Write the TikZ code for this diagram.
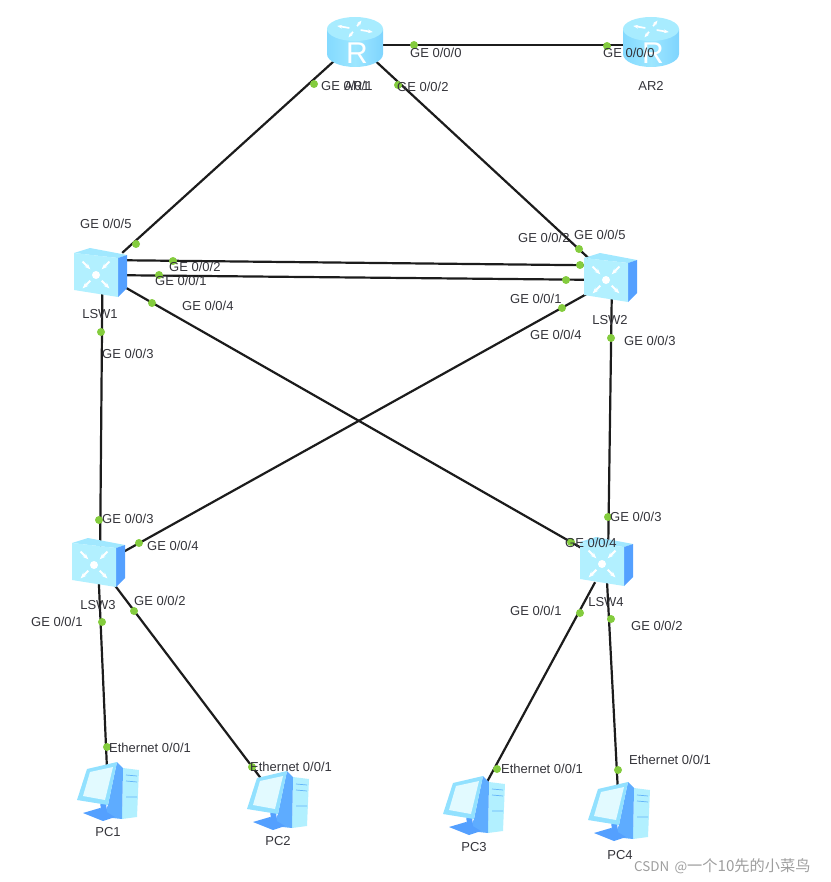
\documentclass[tikz,border=0pt]{standalone}
\usepackage{fontspec}
\setmainfont{Liberation Sans}
\newfontfamily\cjkwm{Noto Sans CJK SC}
\usetikzlibrary{arrows.meta,calc}
\definecolor{linkcol}{RGB}{28,28,28}
\definecolor{portcol}{RGB}{132,204,62}
\definecolor{textcol}{RGB}{52,52,58}
\definecolor{icontop}{RGB}{168,236,255}
\definecolor{iconmid}{RGB}{132,218,255}
\definecolor{iconedge}{RGB}{98,180,250}
\definecolor{iconside}{RGB}{84,160,255}
\definecolor{iconpale}{RGB}{178,240,255}
\definecolor{iconscreen}{RGB}{226,250,255}

\begin{document}
\begin{tikzpicture}[
    x=1pt, y=-1pt,
    link/.style={line width=2.2pt, linkcol},
    port/.style={circle, fill=portcol, inner sep=0pt, minimum size=8pt},
    portlabel/.style={anchor=west, inner sep=0pt, text=textcol, font=\fontsize{13}{15}\selectfont},
    devlabel/.style={inner sep=0pt, text=textcol, font=\fontsize{13}{15}\selectfont},
    routerbox/.style={inner sep=0pt, minimum width=40pt, minimum height=36pt},
    switchbox/.style={inner sep=0pt, minimum width=44pt, minimum height=40pt},
    pcbox/.style={inner sep=0pt, minimum width=50pt, minimum height=44pt},
    pics/routerpic/.style={code={
        \shade[left color=iconmid, right color=iconmid!85!iconedge, middle color=icontop!70!iconmid]
            (-28,-13) -- (-28,12) arc[start angle=180, end angle=0, x radius=28, y radius=13] -- (28,-13) -- cycle;
        \fill[icontop] (0,-13) ellipse [x radius=28, y radius=12];
        \foreach \a in {20,110,200,290} {
            \draw[white, line width=1.7pt, -{Stealth[length=5pt]}] (0,-13) ++(\a:6 and 3) -- ++(\a:13 and 6);
        }
        \node[white, inner sep=0pt, font=\fontsize{30}{30}\selectfont] (-glyph) at (2,11) {R};
    }},
    pics/switchpic/.style={code={
        \fill[icontop!80!iconmid] (-26,-20) -- (-10,-25) -- (27,-18) -- (18,-15) -- cycle;
        \fill[iconside] (18,-15) -- (27,-18) -- (27,15) -- (18,24) -- cycle;
        \fill[iconpale] (-26,-20) -- (18,-15) -- (18,24) -- (-26,17) -- cycle;
        \fill[white] (-4,2) circle (4);
        \foreach \a in {225,315} {
            \draw[white, line width=2.1pt, -{Stealth[length=6pt]}] (-4,2) ++(\a:19) -- ++(\a:-11);
        }
        \foreach \a in {45,135} {
            \draw[white, line width=2.1pt, -{Stealth[length=6pt]}] (-4,2) ++(\a:8) -- ++(\a:11);
        }
    }},
    pics/pcpic/.style={code={
        \fill[iconpale] (15,-24) -- (31,-22) -- (29,25) -- (14,27) -- cycle;
        \fill[iconside!80!iconmid] (9,-30) -- (15,-24) -- (14,27) -- (-5,25) -- (0,13) -- cycle;
        \fill[iconside] (-25,21) -- (-8,16) -- (7,25) -- (-5,29) -- cycle;
        \fill[iconside] (-8,8) -- (-2,9) -- (-1,22) -- (-7,20) -- cycle;
        \fill[iconmid!70!iconpale] (-21,-23) -- (9,-30) -- (0,13) -- (-31,8) -- cycle;
        \fill[iconscreen] (-18,-20) -- (5,-25) -- (-3,8) -- (-25,4) -- cycle;
        \draw[iconedge, line width=0.7pt] (18,-17) -- (29,-16) (18,-11) -- (29,-10) (18,5) -- (29,5);
    }}
]
\useasboundingbox (0,0) rectangle (830,882);

\node[routerbox] (ar1) at (355,42) {};
\node[routerbox] (ar2) at (651,42) {};
\node[switchbox] (lsw1) at (100,273) {};
\node[switchbox] (lsw2) at (610,278) {};
\node[switchbox] (lsw3) at (98,563) {};
\node[switchbox] (lsw4) at (606,562) {};
\node[pcbox] (pc1) at (108,792) {};
\node[pcbox] (pc2) at (278,801) {};
\node[pcbox] (pc3) at (474,806) {};
\node[pcbox] (pc4) at (619,812) {};

\draw[link] ([yshift=-3pt]ar1.center) -- ([yshift=-3pt]ar2.center);
\draw[link] (ar1) -- (lsw1);
\draw[link] (ar1) -- (lsw2);
\draw[link] ([yshift=13pt]lsw1.center) -- ([yshift=12.5pt]lsw2.center);
\draw[link] ([yshift=-2pt]lsw1.center) -- ([yshift=-2pt]lsw2.center);
\draw[link] (lsw1) -- (lsw4);
\draw[link] ([yshift=-3pt]lsw3.center) -- ([yshift=-3pt]lsw2.center);
\draw[link] ([xshift=2.5pt]lsw1.center) -- ([xshift=2pt]lsw3.center);
\draw[link] ([xshift=2pt]lsw2.center) -- ([xshift=2pt]lsw4.center);
\draw[link] (lsw3) -- (pc1);
\draw[link] (lsw3) -- (pc2);
\draw[link] (lsw4) -- (pc3);
\draw[link] (lsw4) -- (pc4);

\pic at (ar1) {routerpic};
\pic at (ar2) {routerpic};
\pic at (lsw1) {switchpic};
\pic at (lsw2) {switchpic};
\pic at (lsw3) {switchpic};
\pic at (lsw4) {switchpic};
\pic at (pc1) {pcpic};
\pic at (pc2) {pcpic};
\pic at (pc3) {pcpic};
\pic at (pc4) {pcpic};

\node[devlabel] (ar1name) at (357,86) {AR1};
\node[devlabel] (ar2name) at (651,86) {AR2};
\node[devlabel] (lsw1name) at (100,314) {LSW1};
\node[devlabel] (lsw2name) at (610,320) {LSW2};
\node[devlabel] (lsw3name) at (98,605) {LSW3};
\node[devlabel] (lsw4name) at (606,602) {LSW4};
\node[devlabel] (pc1name) at (108,832) {PC1};
\node[devlabel] (pc2name) at (278,841) {PC2};
\node[devlabel] (pc3name) at (474,847) {PC3};
\node[devlabel] (pc4name) at (620,855) {PC4};

\node[port] (ar1g0) at (414,45) {};
\node[port] (ar1g1) at (314,84) {};
\node[port] (ar1g2) at (398,85) {};
\node[port] (ar2g0) at (607,46) {};
\node[port] (lsw1g5) at (136,244) {};
\node[port] (lsw1g2) at (173,261) {};
\node[port] (lsw1g1) at (159,275) {};
\node[port] (lsw1g4) at (152,303) {};
\node[port] (lsw1g3) at (101,332) {};
\node[port] (lsw2g5) at (579,249) {};
\node[port] (lsw2g2) at (580,265) {};
\node[port] (lsw2g1) at (566,280) {};
\node[port] (lsw2g4) at (562,308) {};
\node[port] (lsw2g3) at (611,338) {};
\node[port] (lsw3g3) at (99,520) {};
\node[port] (lsw3g4) at (139,543) {};
\node[port] (lsw3g2) at (134,611) {};
\node[port] (lsw3g1) at (102,622) {};
\node[port] (lsw4g3) at (608,517) {};
\node[port] (lsw4g4) at (571,542) {};
\node[port] (lsw4g1) at (580,613) {};
\node[port] (lsw4g2) at (611,619) {};
\node[port] (pc1e) at (107,747) {};
\node[port] (pc2e) at (252,767) {};
\node[port] (pc3e) at (497,769) {};
\node[port] (pc4e) at (618,770) {};

\node[portlabel] (ar1g0t) at (410,53) {GE 0/0/0};
\node[portlabel] (ar1g1t) at (321,86) {GE 0/0/1};
\node[portlabel] (ar1g2t) at (397,87) {GE 0/0/2};
\node[portlabel] (ar2g0t) at (603,53) {GE 0/0/0};
\node[portlabel] (lsw1g5t) at (80,224) {GE 0/0/5};
\node[portlabel] (lsw1g2t) at (169,267) {GE 0/0/2};
\node[portlabel] (lsw1g1t) at (155,281) {GE 0/0/1};
\node[portlabel] (lsw1g4t) at (182,306) {GE 0/0/4};
\node[portlabel] (lsw1g3t) at (102,354) {GE 0/0/3};
\node[portlabel] (lsw2g5t) at (574,235) {GE 0/0/5};
\node[portlabel] (lsw2g2t) at (518,238) {GE 0/0/2};
\node[portlabel] (lsw2g1t) at (510,299) {GE 0/0/1};
\node[portlabel] (lsw2g4t) at (530,335) {GE 0/0/4};
\node[portlabel] (lsw2g3t) at (624,341) {GE 0/0/3};
\node[portlabel] (lsw3g3t) at (102,519) {GE 0/0/3};
\node[portlabel] (lsw3g4t) at (147,546) {GE 0/0/4};
\node[portlabel] (lsw3g2t) at (134,601) {GE 0/0/2};
\node[portlabel] (lsw3g1t) at (31,622) {GE 0/0/1};
\node[portlabel] (lsw4g3t) at (610,517) {GE 0/0/3};
\node[portlabel] (lsw4g4t) at (565,543) {GE 0/0/4};
\node[portlabel] (lsw4g1t) at (510,611) {GE 0/0/1};
\node[portlabel] (lsw4g2t) at (631,626) {GE 0/0/2};
\node[portlabel] (pc1et) at (109,748) {Ethernet 0/0/1};
\node[portlabel] (pc2et) at (250,767) {Ethernet 0/0/1};
\node[portlabel] (pc3et) at (501,769) {Ethernet 0/0/1};
\node[portlabel] (pc4et) at (629,760) {Ethernet 0/0/1};

\node[anchor=west, inner sep=0pt, text=black!38, font=\cjkwm\fontsize{13.4}{15}\selectfont] (mark) at (634,866) {CSDN \,@{\fontsize{15.2}{15}\selectfont 一个10先的小菜鸟}};
\end{tikzpicture}
\end{document}
